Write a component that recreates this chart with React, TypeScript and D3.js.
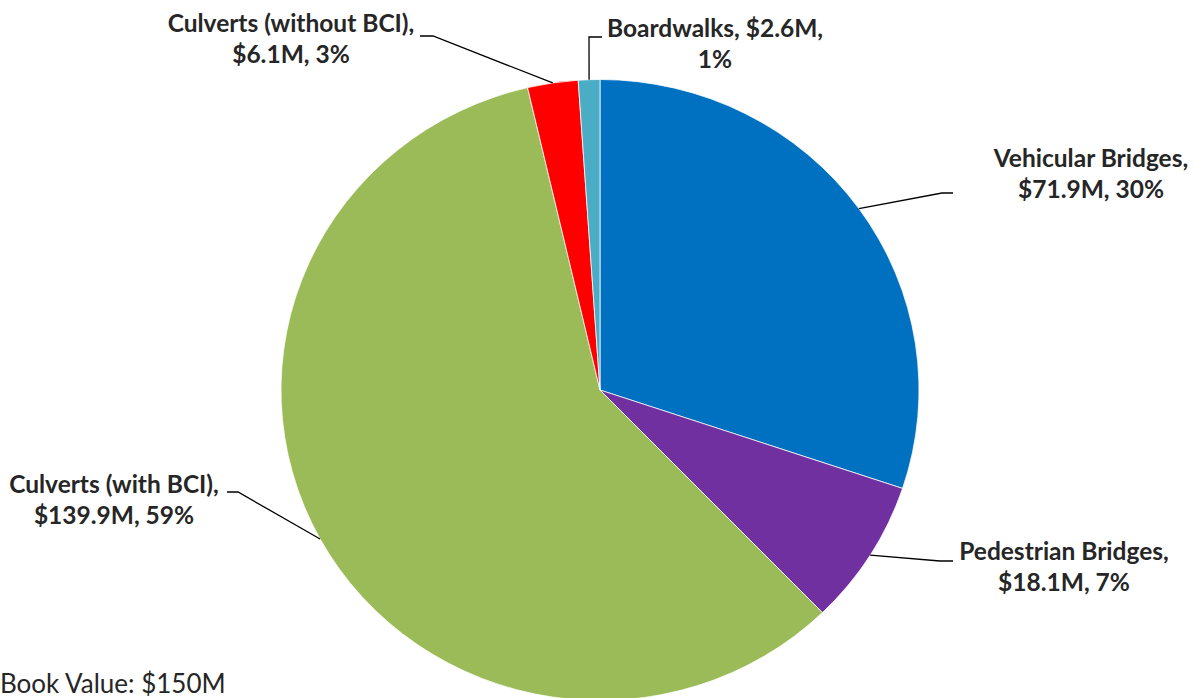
import React from "react";
import * as d3 from "d3";

const categories = [
  "Vehicular Bridges",
  "Pedestrian Bridges",
  "Culverts (with BCI)",
  "Culverts (without BCI)",
  "Boardwalks",
];
const values = [71.9, 18.1, 139.9, 6.1, 2.6];
const percents = [30, 7, 59, 3, 1];
const colors = ["#0070C0", "#7030A0", "#9BBB59", "#FF0000", "#4BACC6"];
const bookValueLabel = "Book Value: $150M";

// label layout: elbow point, end of horizontal segment, text centre, first baseline, break index
const labelLayout = [
  { elbow: [942, 193], end: [953, 193], tx: 1091, ty: 167, split: 1 },
  { elbow: [940, 561], end: [953, 561], tx: 1064, ty: 560, split: 1 },
  { elbow: [238, 492], end: [227, 492], tx: 114, ty: 493, split: 1 },
  { elbow: [433, 36], end: [420, 36], tx: 291, ty: 32, split: 1 },
  { elbow: [589, 37], end: [602, 37], tx: 715, ty: 37, split: 2 },
];

const W = 1194;
const H = 698;
const cx = 600;
const cy = 390;
const rx = 319;
const ry = 310.5;
const FONT = "Lato, 'Open Sans', sans-serif";

export default function App() {
  const pie = d3
    .pie<number>()
    .sort(null)
    .value((d) => d)(values);
  const arc = d3.arc<d3.PieArcDatum<number>>().innerRadius(0).outerRadius(rx);
  const sy = ry / rx;

  return (
    <svg
      width={W}
      height={H}
      style={{ position: "absolute", left: 0, top: 0, background: "#fff" }}
    >
      <g transform={`translate(${cx},${cy}) scale(1,${sy})`}>
        {pie.map((p, i) => (
          <path
            key={i}
            d={arc(p) || ""}
            fill={colors[i]}
            stroke="#fff"
            strokeWidth={0.75}
            vectorEffect="non-scaling-stroke"
          />
        ))}
      </g>
      {pie.map((p, i) => {
        const mid = (p.startAngle + p.endAngle) / 2;
        const sx = cx + rx * Math.sin(mid);
        const syy = cy - ry * Math.cos(mid);
        const L = labelLayout[i];
        const words = [`${categories[i]},`, `$${values[i]}M,`, `${percents[i]}%`];
        const line1 = words.slice(0, L.split).join(" ");
        const line2 = words.slice(L.split).join(" ");
        return (
          <g key={"l" + i}>
            <polyline
              points={`${sx},${syy} ${L.elbow[0]},${L.elbow[1]} ${L.end[0]},${L.end[1]}`}
              fill="none"
              stroke="#000"
              strokeWidth={1.3}
            />
            <text
              x={L.tx}
              y={L.ty}
              textAnchor="middle"
              fontFamily={FONT}
              fontWeight="bold"
              fontSize={24.5}
              fill="#262626"
            >
              {line1}
            </text>
            <text
              x={L.tx}
              y={L.ty + 30.5}
              textAnchor="middle"
              fontFamily={FONT}
              fontWeight="bold"
              fontSize={24.5}
              fill="#262626"
            >
              {line2}
            </text>
          </g>
        );
      })}
      <text x={0} y={693} fontFamily={FONT} fontSize={26} fill="#262626">
        {bookValueLabel}
      </text>
    </svg>
  );
}
